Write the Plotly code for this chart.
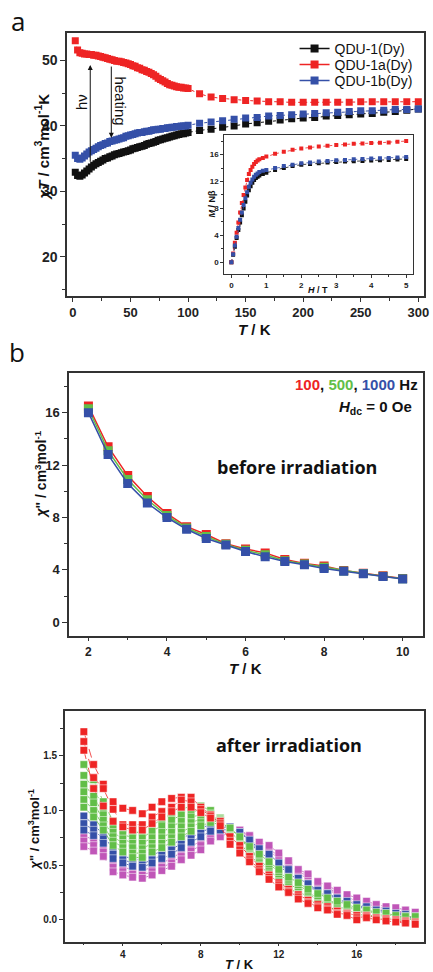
import plotly.graph_objects as go

W, H = 433, 972
def px(x): return x / W
def py(y): return 1 - y / H

# ---------------- Panel a : chi*T vs T ----------------
T_a = [2, 4, 6, 8, 10, 12, 14, 16, 18, 20, 22, 24, 26, 28, 30, 32, 34, 36, 38, 40,
       42, 44, 46, 48, 50, 52, 54, 56, 58, 60, 62, 64, 66, 68, 70, 72, 74, 76, 78, 80,
       82, 84, 86, 88, 90, 92, 94, 96, 98, 100,
       110, 120, 130, 140, 150, 160, 170, 180, 190, 200, 210, 220, 230, 240, 250, 260, 270, 280, 290, 300]
chiT_qdu1 = [32.9, 32.4, 32.3, 32.5, 32.8, 33.1, 33.4, 33.7, 34.0, 34.2, 34.4, 34.6, 34.8, 35.0, 35.1, 35.3, 35.4, 35.6, 35.7, 35.8,
             35.9, 36.0, 36.1, 36.2, 36.3, 36.5, 36.6, 36.7, 36.8, 36.9, 37.0, 37.2, 37.3, 37.4, 37.5, 37.6, 37.8, 37.9, 38.0, 38.1,
             38.2, 38.3, 38.4, 38.5, 38.6, 38.7, 38.8, 38.8, 38.9, 39.0,
             39.3, 39.5, 39.8, 40.0, 40.3, 40.5, 40.7, 40.9, 41.1, 41.2, 41.3, 41.5, 41.6, 41.7, 41.8, 41.9, 42.1, 42.2, 42.4, 42.6]
chiT_qdu1a = [53.0, 51.6, 51.2, 51.1, 51.0, 51.0, 50.9, 50.9, 50.8, 50.8, 50.7, 50.6, 50.5, 50.4, 50.3, 50.2, 50.1, 50.0, 49.9, 49.9,
              49.8, 49.7, 49.6, 49.5, 49.4, 49.2, 49.1, 48.9, 48.8, 48.6, 48.5, 48.3, 48.2, 48.0, 47.8, 47.6, 47.3, 47.1, 46.9, 46.7,
              46.5, 46.3, 46.2, 46.1, 46.0, 45.9, 45.9, 45.8, 45.8, 45.7,
              44.9, 44.4, 44.2, 44.0, 43.9, 43.8, 43.7, 43.7, 43.6, 43.6, 43.6, 43.6, 43.6, 43.6, 43.7, 43.7, 43.7, 43.7, 43.7, 43.7]
chiT_qdu1b = [35.5, 35.0, 34.9, 35.1, 35.4, 35.7, 36.0, 36.2, 36.4, 36.6, 36.8, 37.0, 37.1, 37.3, 37.4, 37.6, 37.7, 37.8, 37.9, 38.0,
              38.1, 38.2, 38.4, 38.5, 38.6, 38.7, 38.8, 38.9, 39.0, 39.0, 39.1, 39.2, 39.2, 39.3, 39.4, 39.4, 39.5, 39.5, 39.6, 39.6,
              39.7, 39.7, 39.8, 39.8, 39.9, 39.9, 40.0, 40.0, 40.0, 40.1,
              40.4, 40.6, 40.8, 41.0, 41.2, 41.3, 41.5, 41.6, 41.7, 41.8, 41.9, 42.0, 42.1, 42.2, 42.3, 42.3, 42.4, 42.5, 42.5, 42.6]
series_a_names = ["QDU-1(Dy)", "QDU-1a(Dy)", "QDU-1b(Dy)"]

# ---------------- Inset : M vs H ----------------
H_field = [0, 0.05, 0.1, 0.15, 0.2, 0.25, 0.3, 0.35, 0.4, 0.45, 0.5, 0.55, 0.6, 0.65, 0.7, 0.75, 0.8, 0.9, 1.0,
           1.25, 1.5, 1.75, 2.0, 2.25, 2.5, 2.75, 3.0, 3.25, 3.5, 3.75, 4.0, 4.25, 4.5, 4.75, 5.0]
M_qdu1 = [0, 1.1, 2.3, 3.6, 4.8, 5.9, 7.0, 8.0, 9.0, 9.9, 10.7, 11.3, 11.8, 12.2, 12.5, 12.7, 12.9, 13.1, 13.3,
          13.7, 14.0, 14.3, 14.5, 14.6, 14.7, 14.8, 14.9, 14.95, 15.0, 15.05, 15.1, 15.15, 15.2, 15.25, 15.35]
M_qdu1a = [0, 1.3, 2.9, 4.4, 5.9, 7.4, 8.8, 10.0, 11.1, 12.2, 13.1, 13.7, 14.2, 14.6, 14.9, 15.1, 15.3, 15.5, 15.7,
           16.1, 16.4, 16.7, 16.9, 17.05, 17.2, 17.3, 17.4, 17.5, 17.6, 17.65, 17.7, 17.75, 17.8, 17.9, 18.0]
M_qdu1b = [0, 1.2, 2.5, 3.8, 5.1, 6.3, 7.4, 8.5, 9.5, 10.4, 11.2, 11.8, 12.3, 12.7, 13.0, 13.2, 13.4, 13.6, 13.7,
           14.0, 14.3, 14.5, 14.7, 14.8, 14.95, 15.05, 15.15, 15.2, 15.3, 15.35, 15.4, 15.45, 15.5, 15.55, 15.65]

# ---------------- Panel b (top) : before irradiation ----------------
T_b = [2, 2.5, 3, 3.5, 4, 4.5, 5, 5.5, 6, 6.5, 7, 7.5, 8, 8.5, 9, 9.5, 10]
chi2_100 = [16.5, 13.4, 11.2, 9.6, 8.3, 7.3, 6.7, 6.0, 5.6, 5.3, 4.8, 4.5, 4.3, 3.95, 3.75, 3.55, 3.35]
chi2_500 = [16.3, 13.1, 10.9, 9.35, 8.15, 7.2, 6.55, 5.95, 5.5, 5.15, 4.7, 4.45, 4.2, 3.92, 3.72, 3.52, 3.32]
chi2_1000 = [16.0, 12.8, 10.6, 9.1, 8.0, 7.1, 6.4, 5.9, 5.4, 5.0, 4.65, 4.4, 4.1, 3.9, 3.7, 3.5, 3.3]

# ---------------- Panel b (bottom) : after irradiation ----------------
T_c = [2, 2.5, 3, 3.5, 4, 4.5, 5, 5.5, 6, 6.5, 7, 7.5, 8, 8.5, 9, 9.5, 10, 10.5, 11, 11.5,
       12, 12.5, 13, 13.5, 14, 14.5, 15, 15.5, 16, 16.5, 17, 17.5, 18, 18.5, 19]
red_curves = [
    [1.72, 1.42, 1.24, 1.08, 1.02, 1.00, 0.97, 1.03, 1.08, 1.11, 1.12, 1.12, 1.03, 0.96, 0.90, 0.76, 0.68, 0.58, 0.49, 0.41,
     0.34, 0.28, 0.23, 0.18, 0.14, 0.12, 0.08, 0.06, 0.04, 0.04, 0.02, 0.01, 0.00, -0.01, -0.02],
    [1.63, 1.30, 1.20, 1.01, 0.87, 0.87, 0.87, 0.94, 0.99, 1.03, 1.095, 1.08, 1.01, 0.95, 0.88, 0.72, 0.64, 0.55, 0.46, 0.39,
     0.32, 0.26, 0.21, 0.16, 0.12, 0.10, 0.06, 0.05, 0.02, 0.03, 0.01, 0.00, -0.01, -0.02, -0.03],
    [1.55, 1.20, 1.04, 0.90, 0.85, 0.82, 0.82, 0.88, 0.94, 0.99, 1.03, 1.03, 0.98, 0.93, 0.86, 0.69, 0.61, 0.53, 0.44, 0.37,
     0.30, 0.25, 0.19, 0.15, 0.11, 0.09, 0.05, 0.04, 0.00, 0.02, 0.00, -0.01, -0.02, -0.03, -0.04],
]
green_curves = [
    [1.42, 1.28, 1.08, 0.90, 0.83, 0.80, 0.80, 0.86, 0.92, 0.97, 1.01, 1.04, 1.04, 1.00, 0.93, 0.80, 0.70, 0.60, 0.50, 0.42,
     0.35, 0.29, 0.24, 0.19, 0.15, 0.12, 0.09, 0.07, 0.05, 0.04, 0.02, 0.01, 0.00, 0.00, -0.01],
    [1.32, 1.20, 1.02, 0.85, 0.78, 0.75, 0.75, 0.81, 0.86, 0.91, 0.96, 0.99, 1.00, 0.97, 0.92, 0.81, 0.71, 0.62, 0.53, 0.45,
     0.38, 0.31, 0.26, 0.21, 0.17, 0.14, 0.11, 0.09, 0.06, 0.05, 0.03, 0.02, 0.01, 0.01, 0.00],
    [1.24, 1.13, 0.96, 0.80, 0.74, 0.70, 0.70, 0.75, 0.80, 0.85, 0.90, 0.94, 0.96, 0.95, 0.91, 0.82, 0.73, 0.64, 0.55, 0.47,
     0.40, 0.33, 0.28, 0.23, 0.19, 0.15, 0.12, 0.10, 0.08, 0.06, 0.04, 0.03, 0.02, 0.01, 0.01],
    [1.17, 1.07, 0.91, 0.76, 0.70, 0.66, 0.65, 0.70, 0.75, 0.80, 0.85, 0.89, 0.92, 0.93, 0.90, 0.83, 0.74, 0.65, 0.57, 0.49,
     0.42, 0.35, 0.30, 0.25, 0.20, 0.17, 0.14, 0.11, 0.09, 0.07, 0.05, 0.04, 0.03, 0.02, 0.01],
    [1.10, 1.00, 0.86, 0.72, 0.66, 0.61, 0.61, 0.66, 0.70, 0.75, 0.80, 0.85, 0.89, 0.91, 0.89, 0.84, 0.75, 0.66, 0.59, 0.51,
     0.44, 0.37, 0.32, 0.26, 0.22, 0.18, 0.15, 0.12, 0.10, 0.08, 0.06, 0.05, 0.03, 0.03, 0.02],
    [1.03, 0.94, 0.82, 0.68, 0.62, 0.57, 0.57, 0.62, 0.66, 0.71, 0.76, 0.81, 0.86, 0.89, 0.87, 0.84, 0.76, 0.67, 0.60, 0.53,
     0.46, 0.39, 0.34, 0.28, 0.24, 0.20, 0.17, 0.14, 0.11, 0.09, 0.07, 0.06, 0.04, 0.03, 0.03],
]
blue_curves = [
    [0.95, 0.87, 0.78, 0.64, 0.59, 0.55, 0.55, 0.59, 0.63, 0.68, 0.74, 0.79, 0.84, 0.87, 0.86, 0.85, 0.79, 0.70, 0.62, 0.56,
     0.49, 0.43, 0.36, 0.31, 0.25, 0.22, 0.18, 0.15, 0.12, 0.10, 0.07, 0.06, 0.04, 0.03, 0.01],
    [0.88, 0.82, 0.74, 0.60, 0.55, 0.52, 0.51, 0.55, 0.59, 0.64, 0.70, 0.75, 0.80, 0.84, 0.84, 0.85, 0.80, 0.72, 0.63, 0.58,
     0.51, 0.45, 0.37, 0.32, 0.26, 0.23, 0.19, 0.16, 0.13, 0.11, 0.08, 0.07, 0.05, 0.04, 0.02],
    [0.82, 0.77, 0.70, 0.56, 0.52, 0.49, 0.48, 0.52, 0.56, 0.60, 0.66, 0.71, 0.76, 0.81, 0.82, 0.83, 0.80, 0.73, 0.65, 0.60,
     0.52, 0.46, 0.38, 0.33, 0.27, 0.24, 0.20, 0.17, 0.14, 0.12, 0.09, 0.08, 0.06, 0.05, 0.03],
]
magenta_curves = [
    [0.77, 0.73, 0.66, 0.52, 0.48, 0.46, 0.45, 0.48, 0.52, 0.56, 0.62, 0.67, 0.72, 0.78, 0.80, 0.83, 0.80, 0.74, 0.67, 0.63,
     0.56, 0.50, 0.42, 0.38, 0.31, 0.28, 0.23, 0.19, 0.15, 0.13, 0.10, 0.09, 0.07, 0.06, 0.04],
    [0.72, 0.68, 0.62, 0.48, 0.44, 0.42, 0.41, 0.44, 0.48, 0.52, 0.58, 0.63, 0.68, 0.75, 0.78, 0.82, 0.81, 0.76, 0.69, 0.65,
     0.58, 0.52, 0.44, 0.40, 0.33, 0.29, 0.25, 0.21, 0.17, 0.15, 0.12, 0.10, 0.08, 0.07, 0.05],
    [0.67, 0.63, 0.58, 0.44, 0.41, 0.39, 0.38, 0.41, 0.45, 0.49, 0.55, 0.59, 0.64, 0.72, 0.76, 0.80, 0.82, 0.77, 0.71, 0.68,
     0.61, 0.54, 0.46, 0.42, 0.35, 0.31, 0.27, 0.23, 0.20, 0.17, 0.14, 0.12, 0.11, 0.09, 0.07],
]

BLACK = "#111111"
RED = "#ee2424"
BLUE = "#3550a8"
GREEN = "#62be48"
MAGENTA = "#c056b8"

fig = go.Figure()

# panel a data
for ys, col in zip([chiT_qdu1, chiT_qdu1a, chiT_qdu1b], [BLACK, RED, BLUE]):
    fig.add_trace(go.Scatter(x=T_a, y=ys, mode="lines+markers",
                             marker=dict(symbol="square", size=7, color=col),
                             line=dict(color=col, width=1, dash="dot"),
                             xaxis="x", yaxis="y", showlegend=False))
# panel a legend entries (each in its own legend box)
for name, col, lg in zip(series_a_names, [BLACK, RED, BLUE], ["legend", "legend2", "legend3"]):
    fig.add_trace(go.Scatter(x=[None], y=[None], name=name, mode="lines+markers",
                             marker=dict(symbol="square", size=8, color=col),
                             line=dict(color=col, width=1.5),
                             xaxis="x", yaxis="y", showlegend=True, legend=lg))
# inset
for ys, col in zip([M_qdu1, M_qdu1a, M_qdu1b], [BLACK, RED, BLUE]):
    fig.add_trace(go.Scatter(x=H_field, y=ys, mode="lines+markers",
                             marker=dict(symbol="square", size=4, color=col),
                             line=dict(color=col, width=0.8, dash="dot"),
                             xaxis="x2", yaxis="y2", showlegend=False))
# panel b top
for ys, col in zip([chi2_100, chi2_500, chi2_1000], [RED, GREEN, BLUE]):
    fig.add_trace(go.Scatter(x=T_b, y=ys, mode="lines+markers",
                             marker=dict(symbol="square", size=9, color=col),
                             line=dict(color=col, width=1.5),
                             xaxis="x3", yaxis="y3", showlegend=False))
# panel b bottom
for group, col in [(magenta_curves, MAGENTA), (blue_curves, BLUE), (green_curves, GREEN), (red_curves, RED)]:
    for ys in group:
        fig.add_trace(go.Scatter(x=T_c, y=ys, mode="lines+markers",
                                 marker=dict(symbol="square", size=7.5, color=col,
                                             line=dict(color="white", width=0.5)),
                                 line=dict(color=col, width=0.8, dash="dash"),
                                 xaxis="x4", yaxis="y4", showlegend=False))

AX = dict(showline=True, linecolor="#333333", linewidth=1.5, mirror=True,
          ticks="outside", tickcolor="#333333", showgrid=False, zeroline=False,
          ticklabeloverflow="allow")

def tf(size):
    return dict(family="Liberation Sans", size=size, color="#222222", weight="bold")

def legend_box(ypix):
    return dict(x=px(298), y=py(ypix), xanchor="left", yanchor="middle",
                font=dict(family="Liberation Sans", size=14, color="#111111"),
                bgcolor="rgba(0,0,0,0)", borderwidth=0, itemwidth=30)

fig.update_layout(
    width=W, height=H, margin=dict(l=0, r=0, t=0, b=0),
    paper_bgcolor="white", plot_bgcolor="white",
    showlegend=True,
    legend=legend_box(49), legend2=legend_box(65), legend3=legend_box(81),
    xaxis=dict(AX, domain=[px(68), px(429)], range=[-5, 305], tickvals=[0, 50, 100, 150, 200, 250, 300],
               ticklen=4, tickwidth=1.2, tickfont=tf(13), anchor="y",
               minor=dict(dtick=25, tick0=0, ticklen=3, ticks="outside", tickcolor="#333333")),
    yaxis=dict(AX, domain=[py(296), py(33)], range=[14, 54.2], tickvals=[20, 30, 40, 50],
               ticklen=5, tickwidth=1.2, tickfont=tf(14), anchor="x",
               minor=dict(dtick=5, tick0=0, ticklen=3, ticks="outside", tickcolor="#333333")),
    xaxis2=dict(AX, domain=[px(227), px(418)], range=[-0.2, 5.2], tickvals=[0, 1, 2, 3, 4, 5],
                ticklen=3, tickwidth=1, linewidth=1.2, tickfont=tf(8), anchor="y2",
                minor=dict(dtick=0.5, tick0=0, ticklen=2, ticks="outside", tickcolor="#333333")),
    yaxis2=dict(AX, domain=[py(274), py(135)], range=[-1.74, 18.9], tickvals=[0, 4, 8, 12, 16],
                ticklen=3, tickwidth=1, linewidth=1.2, tickfont=tf(8), anchor="x2",
                minor=dict(dtick=2, tick0=0, ticklen=2, ticks="outside", tickcolor="#333333")),
    xaxis3=dict(AX, domain=[px(70), px(428)], range=[1.51, 10.52], tickvals=[2, 4, 6, 8, 10],
                ticklen=4, tickwidth=1.2, tickfont=tf(12), anchor="y3",
                minor=dict(dtick=1, tick0=0, ticklen=3, ticks="outside", tickcolor="#333333")),
    yaxis3=dict(AX, domain=[py(635.7), py(372.7)], range=[-1.02, 19.05], tickvals=[0, 4, 8, 12, 16],
                ticklen=5, tickwidth=1.2, tickfont=tf(13), anchor="x3",
                minor=dict(dtick=2, tick0=0, ticklen=3, ticks="outside", tickcolor="#333333")),
    xaxis4=dict(AX, domain=[px(65.7), px(429)], range=[1.03, 19.45], tickvals=[4, 8, 12, 16],
                ticklen=3, tickwidth=1.2, tickfont=tf(10), anchor="y4",
                minor=dict(dtick=2, tick0=0, ticklen=2, ticks="outside", tickcolor="#333333")),
    yaxis4=dict(AX, domain=[py(941.7), py(711)], range=[-0.2, 1.909], tickvals=[0, 0.5, 1.0, 1.5],
                tickformat=".1f", ticklen=4, tickwidth=1.2, tickfont=tf(10), anchor="x4",
                minor=dict(dtick=0.25, tick0=0, ticklen=3, ticks="outside", tickcolor="#333333")),
)

def ann(x, y, text, size, bold=True, angle=0, xanchor="center", family="Liberation Sans", color="#111111"):
    fig.add_annotation(x=px(x), y=py(y), xref="paper", yref="paper", text=text, showarrow=False,
                       textangle=angle, xanchor=xanchor, yanchor="middle",
                       font=dict(family=family, size=size, color=color, weight="bold" if bold else "normal"))

# panel labels
ann(18, 21, "a", 26, bold=False, family="Open Sans")
ann(17, 352, "b", 26, bold=False, family="Open Sans")

# panel a titles
ann(42, 147, "<i>χT</i> / cm<sup>3</sup>mol<sup>-1</sup>K", 15, angle=-90)
ann(257, 329, "<i>T</i> / K", 15)
# inset titles
ann(214, 204, "<i>M</i> / Nβ", 9, angle=-90)
ann(322, 290, "<i>H</i> / T", 9)
# arrows in panel a
fig.add_annotation(x=15, y=49.3, ax=15, ay=34.3, xref="x", yref="y", axref="x", ayref="y",
                   text="", showarrow=True, arrowhead=2, arrowsize=1, arrowwidth=1, arrowcolor="#111111")
fig.add_annotation(x=33.3, y=38.2, ax=33.3, ay=49.3, xref="x", yref="y", axref="x", ayref="y",
                   text="", showarrow=True, arrowhead=2, arrowsize=1, arrowwidth=1, arrowcolor="#111111")
ann(82, 102, "hν", 15, bold=False, angle=-90, family="Liberation Sans")
ann(121, 101, "heating", 15, bold=False, angle=90, family="Liberation Sans")

# panel b top texts
ann(425, 384, "<span style='color:#ee2424'>100</span>, <span style='color:#62be48'>500</span>, "
              "<span style='color:#3550a8'>1000</span> Hz", 15, xanchor="right")
ann(419, 407, "<i>H</i><sub>dc</sub> = 0 Oe", 15, xanchor="right")
ann(300, 467, "before irradiation", 18, family="Open Sans")
ann(41, 475, "<i>χ</i>\" / cm<sup>3</sup>mol<sup>-1</sup>", 14, angle=-90)
ann(248, 668, "<i>T</i> / K", 15)

# panel b bottom texts
ann(292, 745, "after irradiation", 18, family="Open Sans")
ann(34, 830, "<i>χ</i>\" / cm<sup>3</sup>mol<sup>-1</sup>", 13, angle=-90)
ann(242, 964, "<i>T</i> / K", 13)

fig.write_html("out.html", config={"displayModeBar": False},
               post_script="document.body.style.margin='0';")
